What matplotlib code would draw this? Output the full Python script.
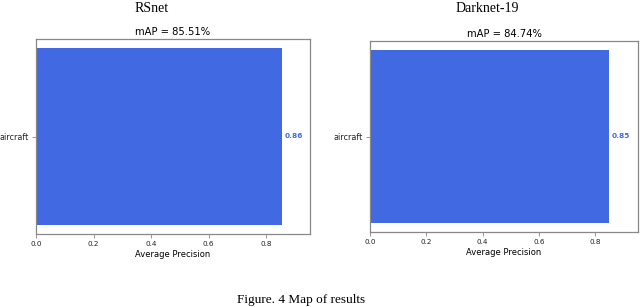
import matplotlib
matplotlib.use("Agg")
import matplotlib.pyplot as plt

models = ["RSnet", "Darknet-19"]
classes = ["aircraft"]
ap_values = [[0.8551], [0.8474]]
map_values = [85.51, 84.74]
caption = "Figure. 4 Map of results"

fig = plt.figure(figsize=(6.4, 3.07), dpi=100)
W, H = 640, 307
boxes = [(36, 39, 310, 234), (370, 41, 638, 232)]
title_x = [152, 487]
bar_color = "royalblue"

for i, (x0, y0, x1, y1) in enumerate(boxes):
    ax = fig.add_axes([x0 / W, 1 - y1 / H, (x1 - x0) / W, (y1 - y0) / H])
    ax.barh(classes, ap_values[i], color=bar_color)
    ax.set_xlim(0, 0.952)
    for c, v in zip(classes, ap_values[i]):
        ax.text(v + 0.01, c, f"{v:.2f}", color=bar_color, fontweight="bold",
                fontsize=5.3, va="center", ha="left")
    ax.set_title(f"mAP = {map_values[i]:.2f}%", fontsize=7.2, pad=3)
    ax.set_xlabel("Average Precision", fontsize=6, labelpad=2)
    ax.tick_params(axis="x", labelsize=5.2, length=3, width=0.6, color="#888888", pad=2,
                   labelcolor="#222222")
    ax.tick_params(axis="y", labelsize=5.9, length=3, width=0.6, color="#888888", pad=2,
                   labelcolor="#222222")
    for s in ax.spines.values():
        s.set_color("#888888")
        s.set_linewidth(0.9)
    fig.text(title_x[i] / W, 1 - 8 / H, models[i], fontsize=10, family="Liberation Serif",
             ha="center", va="center")

fig.text(301 / W, 1 - 300 / H, caption, fontsize=9.5, family="Liberation Serif",
         ha="center", va="center")

fig.savefig("out.png", dpi=100)
